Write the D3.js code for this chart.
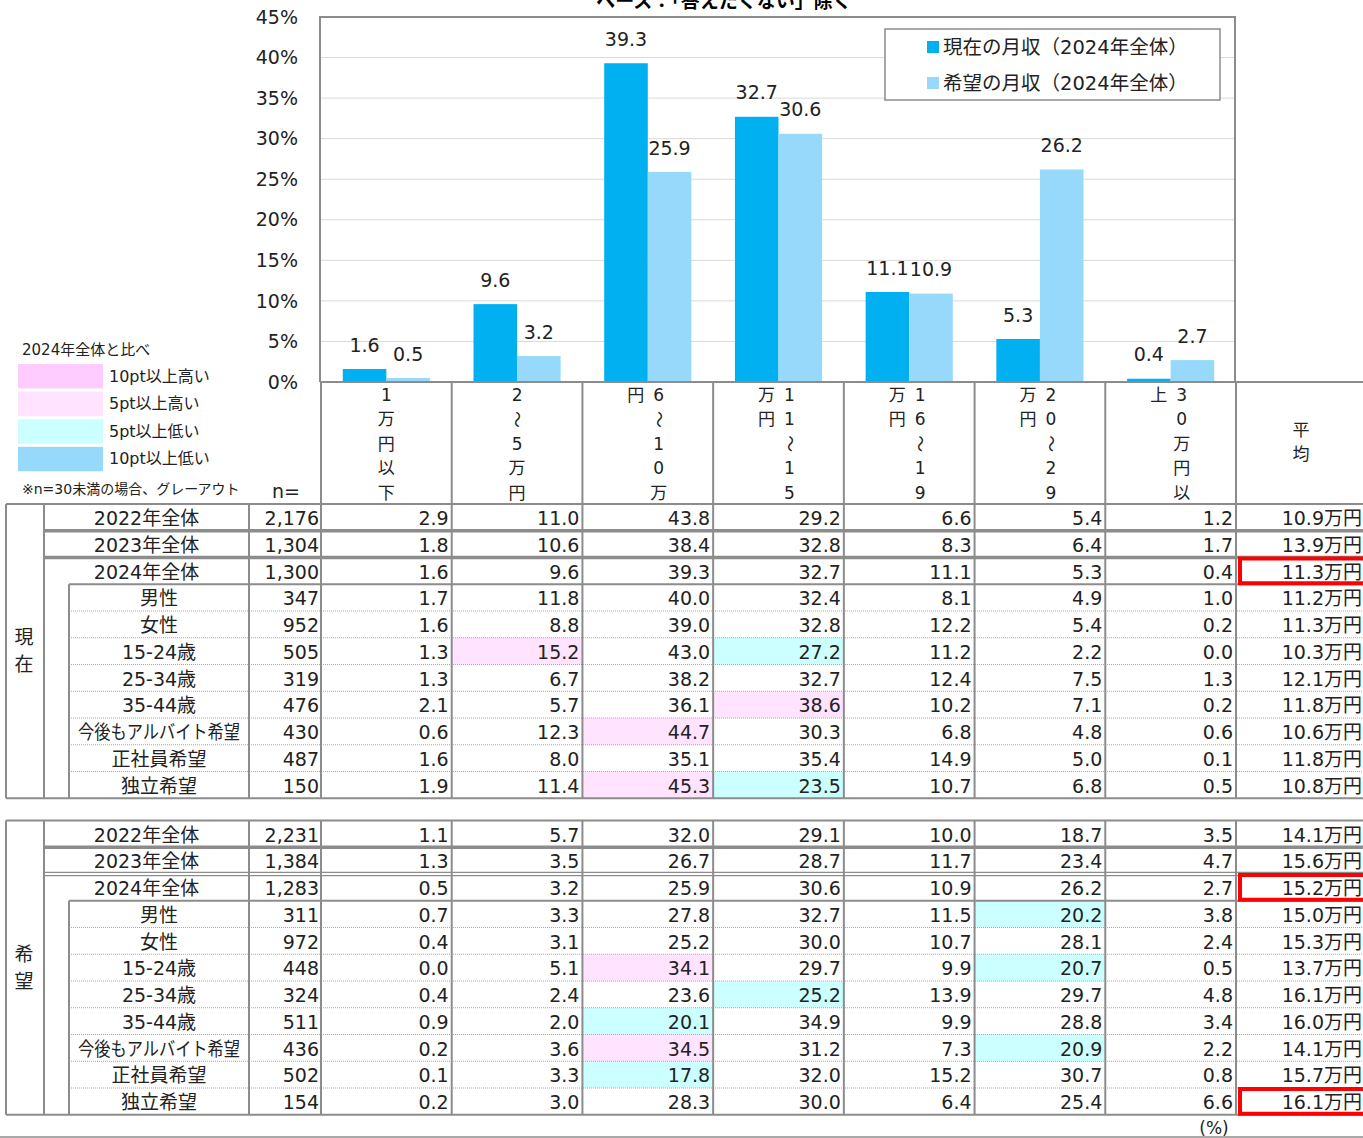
<!DOCTYPE html>
<html><head><meta charset="utf-8">
<script src="https://cdn.jsdelivr.net/npm/d3@7"></script>
<style>
html,body{margin:0;padding:0;background:#fff;}
svg{display:block;font-family:"DejaVu Sans","Noto Sans CJK JP",sans-serif;}
</style></head>
<body>
<svg id="c" width="1363" height="1138"></svg>
<script>
// ---------- DATA ----------
const categories = ["1万円以下","2〜5万円","6〜10万円","11〜15万円","16〜19万円","20〜29万円","30万円以上"];
const seriesNames = ["現在の月収（2024年全体）","希望の月収（2024年全体）"];
const barCurrent = [1.6, 9.6, 39.3, 32.7, 11.1, 5.3, 0.4];
const barHope = [0.5, 3.2, 25.9, 30.6, 10.9, 26.2, 2.7];
const yTicks = [0,5,10,15,20,25,30,35,40,45];
const title = "ベース：「答えたくない」除く";

const rowLabels = ["2022年全体","2023年全体","2024年全体","男性","女性","15-24歳","25-34歳","35-44歳","今後もアルバイト希望","正社員希望","独立希望"];
const nCurrent = ["2,176","1,304","1,300","347","952","505","319","476","430","487","150"];
const valsCurrent = [
  [2.9,11.0,43.8,29.2,6.6,5.4,1.2],
  [1.8,10.6,38.4,32.8,8.3,6.4,1.7],
  [1.6,9.6,39.3,32.7,11.1,5.3,0.4],
  [1.7,11.8,40.0,32.4,8.1,4.9,1.0],
  [1.6,8.8,39.0,32.8,12.2,5.4,0.2],
  [1.3,15.2,43.0,27.2,11.2,2.2,0.0],
  [1.3,6.7,38.2,32.7,12.4,7.5,1.3],
  [2.1,5.7,36.1,38.6,10.2,7.1,0.2],
  [0.6,12.3,44.7,30.3,6.8,4.8,0.6],
  [1.6,8.0,35.1,35.4,14.9,5.0,0.1],
  [1.9,11.4,45.3,23.5,10.7,6.8,0.5]
];
const avgCurrent = [10.9,13.9,11.3,11.2,11.3,10.3,12.1,11.8,10.6,11.8,10.8];
const nHope = ["2,231","1,384","1,283","311","972","448","324","511","436","502","154"];
const valsHope = [
  [1.1,5.7,32.0,29.1,10.0,18.7,3.5],
  [1.3,3.5,26.7,28.7,11.7,23.4,4.7],
  [0.5,3.2,25.9,30.6,10.9,26.2,2.7],
  [0.7,3.3,27.8,32.7,11.5,20.2,3.8],
  [0.4,3.1,25.2,30.0,10.7,28.1,2.4],
  [0.0,5.1,34.1,29.7,9.9,20.7,0.5],
  [0.4,2.4,23.6,25.2,13.9,29.7,4.8],
  [0.9,2.0,20.1,34.9,9.9,28.8,3.4],
  [0.2,3.6,34.5,31.2,7.3,20.9,2.2],
  [0.1,3.3,17.8,32.0,15.2,30.7,0.8],
  [0.2,3.0,28.3,30.0,6.4,25.4,6.6]
];
const avgHope = [14.1,15.6,15.2,15.0,15.3,13.7,16.1,16.0,14.1,15.7,16.1];
const legendItems = ["10pt以上高い","5pt以上高い","5pt以上低い","10pt以上低い"];

// ---------- DRAW ----------
const svg = d3.select("#c");
const C_CUR = "#00B0F0", C_HOPE = "#97D9FA";
const C_HI10 = "#FFCCFF", C_HI5 = "#FFE3FF", C_LO5 = "#CCFFFF", C_LO10 = "#97D9FA";
const LINE = "#8c8c8c";

const x = d3.scaleBand().domain(categories).range([321, 1236]).padding(0);
const xs = d3.scaleBand().domain([0,1]).range([0, x.bandwidth()]).paddingOuter(0.5).paddingInner(0);
const y = d3.scaleLinear().domain([0,45]).range([382,17]);
const plotL = x.range()[0], plotR = x.range()[1];

// title (cut off at top, as in the reference)
svg.append("text").attr("x",724).attr("y",8).attr("text-anchor","middle")
  .attr("font-size",19).attr("font-weight","bold").attr("font-family","Noto Sans CJK JP").text(title);

// gridlines
svg.append("g").selectAll("line").data(yTicks.filter(d=>d>0&&d<45)).join("line")
  .attr("x1",plotL).attr("x2",plotR).attr("y1",d=>y(d)).attr("y2",d=>y(d))
  .attr("stroke","#d9d9d9").attr("stroke-width",1);

// y axis labels
svg.append("g").selectAll("text").data(yTicks).join("text")
  .attr("x",298).attr("y",d=>y(d)).attr("dy","0.35em").attr("text-anchor","end")
  .attr("font-size",19).attr("fill","#222").text(d=>d+"%");

// bars
const series = [barCurrent, barHope];
const colors = [C_CUR, C_HOPE];
series.forEach((vals,si)=>{
  const g = svg.append("g");
  g.selectAll("rect").data(vals).join("rect")
    .attr("x",(d,i)=>x(categories[i])+xs(si)).attr("width",xs.bandwidth())
    .attr("y",d=>y(d)).attr("height",d=>y(0)-y(d)).attr("fill",colors[si]);
  g.selectAll("text").data(vals).join("text")
    .attr("x",(d,i)=>x(categories[i])+xs(si)+xs.bandwidth()/2)
    .attr("y",d=>y(d)-24).attr("dy","0.35em").attr("text-anchor","middle")
    .attr("font-size",19).attr("fill","#222").text(d=>d.toFixed(1));
});

// plot border
svg.append("path").attr("d",`M${plotL-1},382V17H${plotR-1}V382`).attr("fill","none").attr("stroke",LINE).attr("stroke-width",2);

// legend box
const lg = svg.append("g");
lg.append("rect").attr("x",885).attr("y",29).attr("width",335).attr("height",71)
  .attr("fill","#fff").attr("stroke",LINE).attr("stroke-width",1.5);
seriesNames.forEach((s,i)=>{
  const cy = 47 + i*36;
  lg.append("rect").attr("x",927).attr("y",cy-6).attr("width",12).attr("height",12).attr("fill",colors[i]);
  lg.append("text").attr("x",943).attr("y",cy).attr("dy","0.35em").attr("font-size",19.5).attr("fill","#222").text(s);
});

// left legend
svg.append("text").attr("x",22).attr("y",350).attr("dy","0.35em").attr("font-size",15).attr("fill","#222").text("2024年全体と比べ");
const lcols = [C_HI10,C_HI5,C_LO5,C_LO10];
legendItems.forEach((t,i)=>{
  const cy = 376 + i*27.6;
  svg.append("rect").attr("x",18).attr("y",cy-12).attr("width",85).attr("height",24.5).attr("fill",lcols[i]);
  svg.append("text").attr("x",109).attr("y",cy).attr("dy","0.35em").attr("font-size",16).attr("fill","#222").text(t);
});
svg.append("text").attr("x",22).attr("y",489).attr("dy","0.35em").attr("font-size",14).attr("fill","#222").text("※n=30未満の場合、グレーアウト");
svg.append("text").attr("x",272).attr("y",491).attr("dy","0.35em").attr("font-size",19).attr("fill","#222").text("n=");

// header vertical text
const hg = svg.append("g").attr("font-size",17).attr("fill","#222");
categories.forEach(c=>{
  const chars = Array.from(c);
  const cx = x(c) + x.bandwidth()/2;
  const two = chars.length > 5;
  chars.forEach((ch,k)=>{
    const col = k < 5 ? 0 : 1;
    const row = k < 5 ? k : k-5;
    const px = two ? (col===0 ? cx+11 : cx-12) : cx;
    const py = 395 + row*24.4;
    const t = hg.append("text").attr("x",px).attr("y",py).attr("dy","0.35em").attr("text-anchor","middle").text(ch);
    if (ch === "〜") t.attr("transform",`rotate(90,${px},${py})`);
  });
});
hg.append("text").attr("x",1301).attr("y",430).attr("dy","0.35em").attr("text-anchor","middle").text("平");
hg.append("text").attr("x",1301).attr("y",454).attr("dy","0.35em").attr("text-anchor","middle").text("均");

// header lines
const colEdges = categories.map(c=>x(c)).concat([plotR]);
svg.append("line").attr("x1",plotL).attr("x2",1363).attr("y1",382).attr("y2",382).attr("stroke",LINE).attr("stroke-width",2);
colEdges.forEach(e=>{
  svg.append("line").attr("x1",e).attr("x2",e).attr("y1",382).attr("y2",503).attr("stroke",LINE).attr("stroke-width",2);
});

// tables
const RH = 26.75;
function drawTable(top, groupLabel, nArr, vals, avg, redRows, doubleSecond) {
  const g = svg.append("g");
  const bottom = top + RH*rowLabels.length;
  const base = vals[2];
  // cell highlights
  vals.forEach((row,r)=>{
    if (r < 3) return;
    row.forEach((v,ci)=>{
      const d = v - base[ci];
      let fill = null;
      if (d >= 10) fill = C_HI10; else if (d >= 5) fill = C_HI5;
      else if (d <= -10) fill = C_LO10; else if (d <= -5) fill = C_LO5;
      if (fill) g.append("rect").attr("x",colEdges[ci]).attr("y",top+r*RH)
        .attr("width",colEdges[ci+1]-colEdges[ci]).attr("height",RH).attr("fill",fill);
    });
  });
  // horizontal lines
  g.append("line").attr("x1",6).attr("x2",1363).attr("y1",top).attr("y2",top).attr("stroke",LINE).attr("stroke-width",2);
  g.append("line").attr("x1",6).attr("x2",1363).attr("y1",bottom).attr("y2",bottom).attr("stroke",LINE).attr("stroke-width",2);
  for (let r=1; r<rowLabels.length; r++) {
    const yy = top + r*RH;
    if (r === 1 || (r === 2 && !doubleSecond)) {
      g.append("line").attr("x1",44).attr("x2",1363).attr("y1",yy).attr("y2",yy).attr("stroke",LINE).attr("stroke-width",3.5);
    } else if (r === 2) {
      [-1.7,1.7].forEach(o=>g.append("line").attr("x1",44).attr("x2",1363).attr("y1",yy+o).attr("y2",yy+o).attr("stroke",LINE).attr("stroke-width",1.2));
    } else if (r === 3) {
      g.append("line").attr("x1",69).attr("x2",1363).attr("y1",yy).attr("y2",yy).attr("stroke",LINE).attr("stroke-width",2);
    } else {
      g.append("line").attr("x1",69).attr("x2",1363).attr("y1",yy).attr("y2",yy).attr("stroke","#a6a6a6").attr("stroke-width",1).attr("stroke-dasharray","1,1");
    }
  }
  // vertical lines
  [6,44,249].concat(colEdges).forEach(e=>{
    g.append("line").attr("x1",e).attr("x2",e).attr("y1",top).attr("y2",bottom).attr("stroke",LINE).attr("stroke-width",2);
  });
  g.append("line").attr("x1",69).attr("x2",69).attr("y1",top+3*RH).attr("y2",bottom).attr("stroke",LINE).attr("stroke-width",2);
  // group label
  const mid = (top+bottom)/2;
  Array.from(groupLabel).forEach((ch,k)=>{
    g.append("text").attr("x",24).attr("y",mid-13.5+k*27).attr("dy","0.35em").attr("text-anchor","middle")
      .attr("font-size",19).attr("fill","#222").text(ch);
  });
  // text
  rowLabels.forEach((lab,r)=>{
    const cy = top + r*RH + RH/2 + 1;
    const lx = r < 3 ? (44+249)/2 : (69+249)/2;
    const lt = g.append("text").attr("x",lx).attr("y",cy).attr("dy","0.35em").attr("text-anchor","middle").attr("font-size",19).attr("fill","#222").text(lab);
    if (Array.from(lab).length > 8) lt.attr("textLength",162).attr("lengthAdjust","spacingAndGlyphs");
    g.append("text").attr("x",319).attr("y",cy).attr("dy","0.35em").attr("text-anchor","end").attr("font-size",19).attr("fill","#222").text(nArr[r]);
    vals[r].forEach((v,ci)=>{
      g.append("text").attr("x",colEdges[ci+1]-3).attr("y",cy).attr("dy","0.35em").attr("text-anchor","end").attr("font-size",19).attr("fill","#222").text(v.toFixed(1));
    });
    g.append("text").attr("x",1362).attr("y",cy).attr("dy","0.35em").attr("text-anchor","end").attr("font-size",19).attr("fill","#222").text(avg[r].toFixed(1)+"万円");
  });
  // red boxes
  redRows.forEach(r=>{
    g.append("rect").attr("x",plotR+4).attr("y",top+r*RH+1).attr("width",140).attr("height",RH-2)
      .attr("fill","none").attr("stroke","#ff0000").attr("stroke-width",4);
  });
}
drawTable(504, "現在", nCurrent, valsCurrent, avgCurrent, [2], false);
drawTable(820.5, "希望", nHope, valsHope, avgHope, [2,10], true);

svg.append("text").attr("x",1214).attr("y",1128).attr("dy","0.35em").attr("text-anchor","middle").attr("font-size",17).attr("fill","#222").text("(%)");
svg.append("line").attr("x1",0).attr("x2",1363).attr("y1",1137).attr("y2",1137).attr("stroke",LINE).attr("stroke-width",1.5);
</script>
</body></html>
